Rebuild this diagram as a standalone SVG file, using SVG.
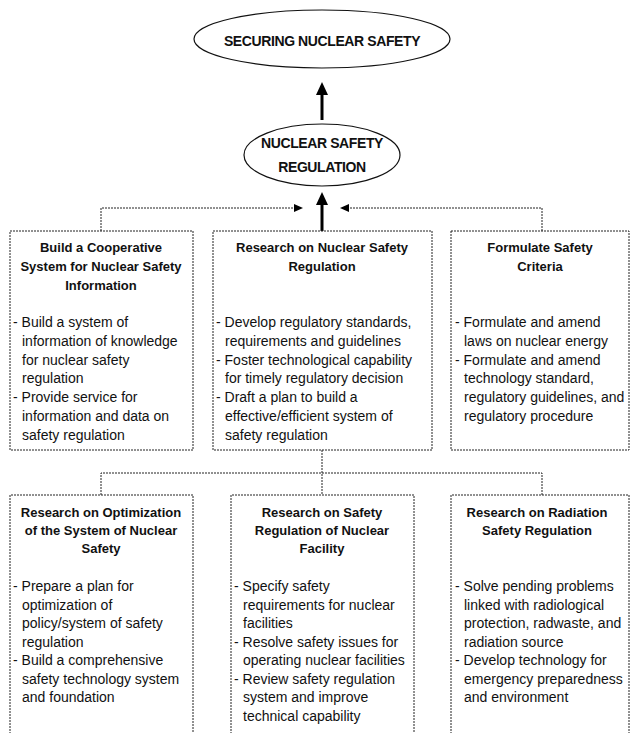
<svg xmlns="http://www.w3.org/2000/svg" width="630" height="733" viewBox="0 0 630 733">
<style>
.box{fill:none;stroke:#222;stroke-width:1;stroke-dasharray:2 1}
.ell{fill:#fff;stroke:#111;stroke-width:1.2}
.h{font-family:"Liberation Sans",Arial,sans-serif;font-weight:bold;font-size:13px;fill:#111;text-anchor:middle}
.et{font-family:"Liberation Sans",Arial,sans-serif;font-weight:bold;font-size:14px;fill:#111;text-anchor:middle;letter-spacing:-0.4px}
.b{font-family:"Liberation Sans",Arial,sans-serif;font-size:14px;fill:#111}
.con{fill:none;stroke:#222;stroke-width:1;stroke-dasharray:2 1}
.thick{fill:none;stroke:#000;stroke-width:3}
.head{fill:#000}
</style>
<rect width="630" height="733" fill="#fff"/>

<g id="connectors">
  <line class="thick" x1="322" y1="120" x2="322" y2="92"/>
  <polygon class="head" points="322,82 316,95 328,95"/>
  <line class="thick" x1="322" y1="231" x2="322" y2="203"/>
  <polygon class="head" points="322,192 316,205 328,205"/>
  <polyline class="con" points="101,231 101,208 296,208"/>
  <polygon class="head" points="303,208 294,204 294,212"/>
  <polyline class="con" points="542,231 542,208 348,208"/>
  <polygon class="head" points="340,208 349,204 349,212"/>
  <polyline class="con" points="322,450 322,495"/>
  <polyline class="con" points="101,495 101,473 542,473 542,495"/>
</g>

<g id="securing">
  <ellipse class="ell" cx="322" cy="39" rx="128" ry="29"/>
  <text class="et" x="322" y="46">SECURING NUCLEAR SAFETY</text>
</g>

<g id="regulation">
  <ellipse class="ell" cx="322" cy="155" rx="78" ry="31"/>
  <text class="et" x="322" y="148">NUCLEAR SAFETY</text>
  <text class="et" x="322" y="172">REGULATION</text>
</g>

<g id="cooperative">
  <rect class="box" x="10" y="231" width="183" height="219"/>
  <text class="h" x="101" y="252">Build a Cooperative</text>
  <text class="h" x="101" y="271">System for Nuclear Safety</text>
  <text class="h" x="101" y="290">Information</text>
  <text class="b" x="13" y="327">- Build a system of</text>
  <text class="b" x="22" y="346">information of knowledge</text>
  <text class="b" x="22" y="365">for nuclear safety</text>
  <text class="b" x="22" y="383">regulation</text>
  <text class="b" x="13" y="402">- Provide service for</text>
  <text class="b" x="22" y="421">information and data on</text>
  <text class="b" x="22" y="440">safety regulation</text>
</g>

<g id="research-regulation">
  <rect class="box" x="213" y="231" width="219" height="219"/>
  <text class="h" x="322" y="252">Research on Nuclear Safety</text>
  <text class="h" x="322" y="271">Regulation</text>
  <text class="b" x="216" y="327">- Develop regulatory standards,</text>
  <text class="b" x="225" y="346">requirements and guidelines</text>
  <text class="b" x="216" y="365">- Foster technological capability</text>
  <text class="b" x="225" y="383">for timely regulatory decision</text>
  <text class="b" x="216" y="402">- Draft a plan to build a</text>
  <text class="b" x="225" y="421">effective/efficient system of</text>
  <text class="b" x="225" y="440">safety regulation</text>
</g>

<g id="criteria">
  <rect class="box" x="451" y="231" width="178" height="219"/>
  <text class="h" x="540" y="252">Formulate Safety</text>
  <text class="h" x="540" y="271">Criteria</text>
  <text class="b" x="455" y="327">- Formulate and amend</text>
  <text class="b" x="464" y="346">laws on nuclear energy</text>
  <text class="b" x="455" y="365">- Formulate and amend</text>
  <text class="b" x="464" y="383">technology standard,</text>
  <text class="b" x="464" y="402">regulatory guidelines, and</text>
  <text class="b" x="464" y="421">regulatory procedure</text>
</g>

<g id="optimization">
  <path class="box" d="M10,740 V495 H193 V740"/>
  <text class="h" x="101" y="517">Research on Optimization</text>
  <text class="h" x="101" y="535">of the System of Nuclear</text>
  <text class="h" x="101" y="553">Safety</text>
  <text class="b" x="13" y="591">- Prepare a plan for</text>
  <text class="b" x="22" y="610">optimization of</text>
  <text class="b" x="22" y="628">policy/system of safety</text>
  <text class="b" x="22" y="647">regulation</text>
  <text class="b" x="13" y="665">- Build a comprehensive</text>
  <text class="b" x="22" y="684">safety technology system</text>
  <text class="b" x="22" y="702">and foundation</text>
</g>

<g id="facility">
  <path class="box" d="M231,740 V495 H414 V740"/>
  <text class="h" x="322" y="517">Research on Safety</text>
  <text class="h" x="322" y="535">Regulation of Nuclear</text>
  <text class="h" x="322" y="553">Facility</text>
  <text class="b" x="234" y="591">- Specify safety</text>
  <text class="b" x="243" y="610">requirements for nuclear</text>
  <text class="b" x="243" y="628">facilities</text>
  <text class="b" x="234" y="647">- Resolve safety issues for</text>
  <text class="b" x="243" y="665">operating nuclear facilities</text>
  <text class="b" x="234" y="684">- Review safety regulation</text>
  <text class="b" x="243" y="702">system and improve</text>
  <text class="b" x="243" y="721">technical capability</text>
</g>

<g id="radiation">
  <path class="box" d="M451,740 V495 H629 V740"/>
  <text class="h" x="537" y="517">Research on Radiation</text>
  <text class="h" x="537" y="535">Safety Regulation</text>
  <text class="b" x="455" y="591">- Solve pending problems</text>
  <text class="b" x="464" y="610">linked with radiological</text>
  <text class="b" x="464" y="628">protection, radwaste, and</text>
  <text class="b" x="464" y="647">radiation source</text>
  <text class="b" x="455" y="665">- Develop technology for</text>
  <text class="b" x="464" y="684">emergency preparedness</text>
  <text class="b" x="464" y="702">and environment</text>
</g>
</svg>
